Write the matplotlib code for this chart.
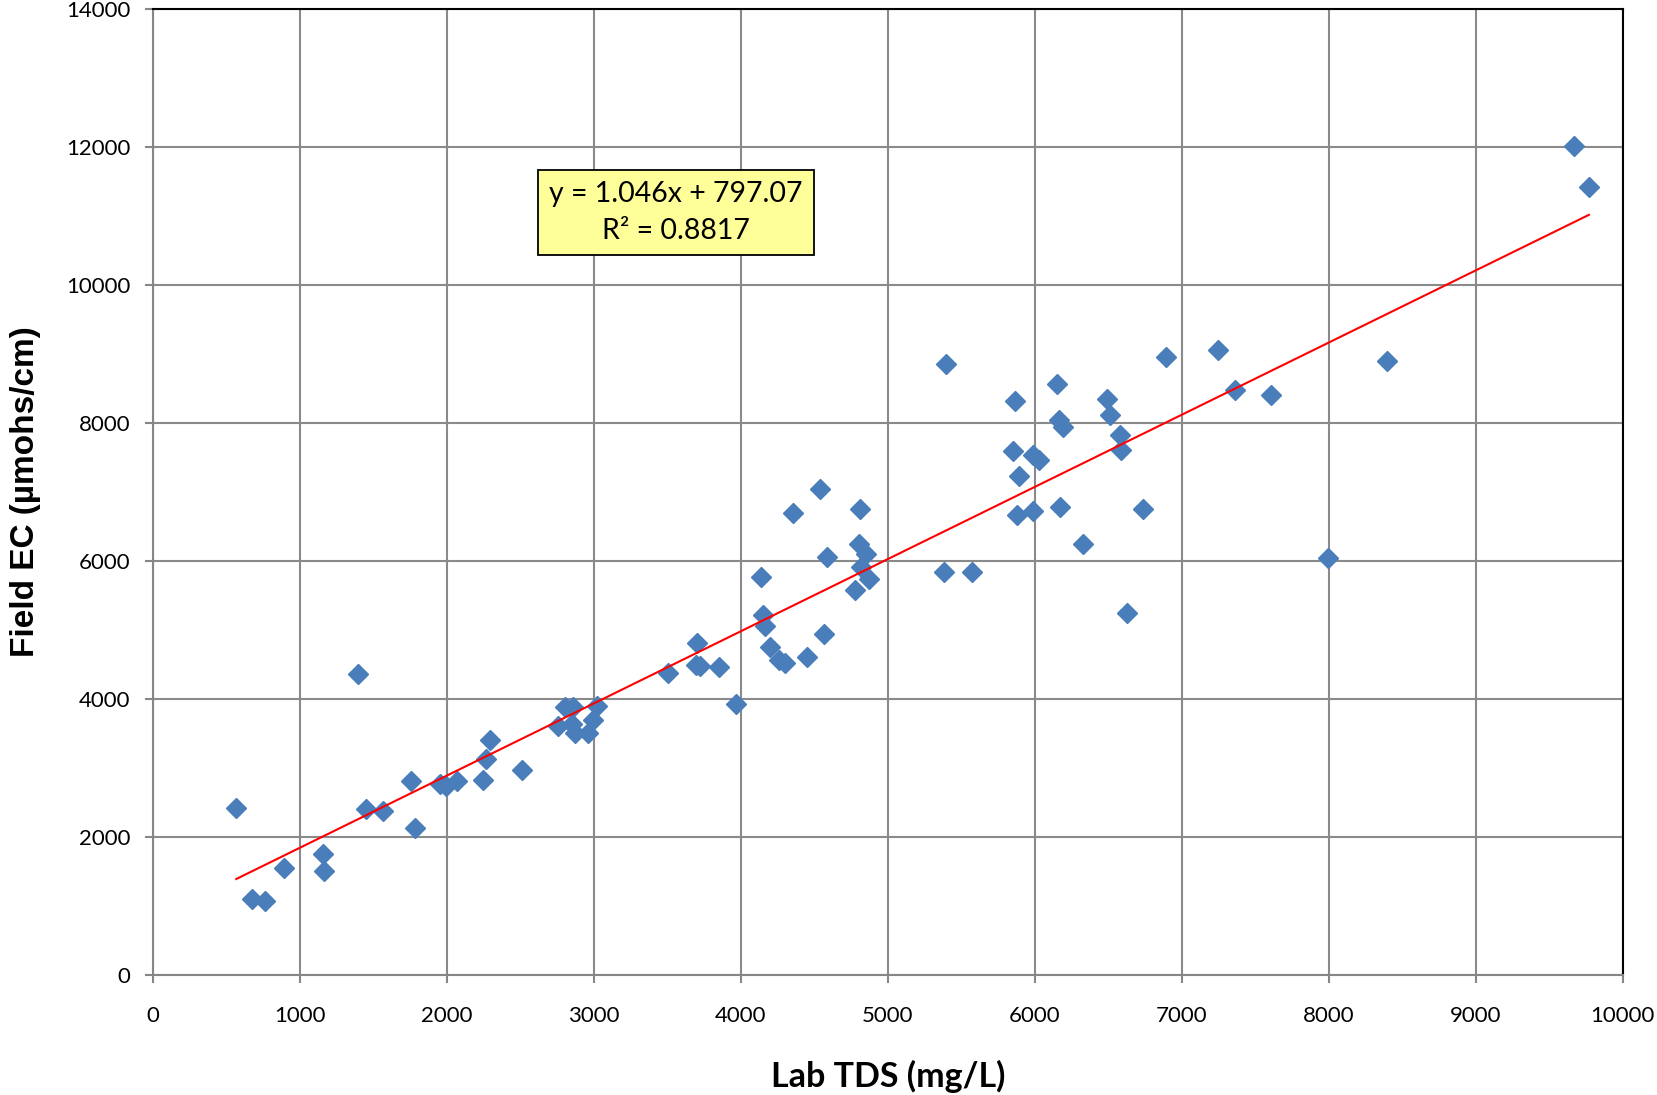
import numpy as np
import matplotlib.pyplot as plt

# Lab TDS (mg/L) vs Field EC (umohs/cm)
lab_tds = [568, 676, 763, 892, 1158, 1165, 1396, 1453, 1568, 1755,
           1784, 1957, 1993, 2072, 2245, 2266, 2295, 2511, 2759, 2804,
           2861, 2850, 2873, 2963, 2997, 3020, 3504, 3698, 3705, 3720,
           3849, 3971, 4137, 4151, 4165, 4201, 4259, 4302, 4353, 4453,
           4540, 4568, 4590, 4777, 4806, 4813, 4820, 4849, 4871, 5381,
           5396, 5576, 5849, 5863, 5892, 5878, 5986, 5986, 6029, 6151,
           6165, 6194, 6173, 6331, 6489, 6511, 6583, 6590, 6626, 6734,
           6892, 7245, 7360, 7604, 7993, 8396, 9669, 9770]
field_ec = [2425, 1105, 1075, 1550, 1750, 1510, 4355, 2412, 2378, 2810,
            2135, 2770, 2735, 2805, 2820, 3130, 3408, 2965, 3605, 3888,
            3888, 3640, 3510, 3505, 3690, 3895, 4373, 4490, 4806, 4480,
            4462, 3930, 5772, 5218, 5060, 4760, 4570, 4516, 6693, 4615,
            7042, 4935, 6064, 5585, 6245, 6752, 5920, 6098, 5732, 5847,
            8855, 5847, 7600, 8312, 7226, 6673, 6720, 7543, 7470, 8563,
            8050, 7943, 6782, 6245, 8347, 8110, 7828, 7612, 5250, 6747,
            8956, 9064, 8478, 8410, 6050, 8905, 12020, 11420]

slope = 1.046
intercept = 797.07
r2 = 0.8817

fig = plt.figure(figsize=(16.57, 10.95), dpi=100)
ax = fig.add_axes([0.0922, 0.1096, 0.8871, 0.8822])

ax.plot(lab_tds, field_ec, linestyle='none', marker='D', markersize=10,
        color='#4A7EBB', zorder=3)

xfit = np.array([min(lab_tds), max(lab_tds)])
ax.plot(xfit, slope * xfit + intercept, color='red', linewidth=1.5, zorder=4)

ax.set_xlim(0, 10000)
ax.set_ylim(0, 14000)
ax.set_xticks(np.arange(0, 10001, 1000))
ax.set_yticks(np.arange(0, 14001, 2000))
ax.grid(True, color='#8a8a8a', linewidth=1.5)
ax.set_axisbelow(True)

for s in ['left', 'bottom']:
    ax.spines[s].set_color('#868686')
    ax.spines[s].set_linewidth(1.5)
for s in ['top', 'right']:
    ax.spines[s].set_color('black')
    ax.spines[s].set_linewidth(1.5)

ax.tick_params(axis='both', direction='out', length=6, width=1.5,
               color='#868686', labelsize=16)
ax.tick_params(axis='x', pad=16)
ax.tick_params(axis='y', pad=10)
for lab in ax.get_xticklabels() + ax.get_yticklabels():
    lab.set_fontfamily('Lato')

ax.set_xlabel('Lab TDS (mg/L)', fontsize=24.5, fontweight='bold',
              fontfamily='Lato', labelpad=25)
ax.set_ylabel('Field EC (\u00b5mohs/cm)', fontsize=24, fontweight='bold',
              fontfamily='Liberation Sans', labelpad=18)

ax.text(3560, 11050, f'y = {slope}x + {intercept}\nR\u00b2 = {r2}',
        ha='center', va='center', fontsize=20.5, fontfamily='Lato',
        linespacing=1.5, zorder=5,
        bbox=dict(boxstyle='square,pad=0.4', facecolor='#FFFF99',
                  edgecolor='black', linewidth=1.3))

fig.savefig('out.png', dpi=100)
